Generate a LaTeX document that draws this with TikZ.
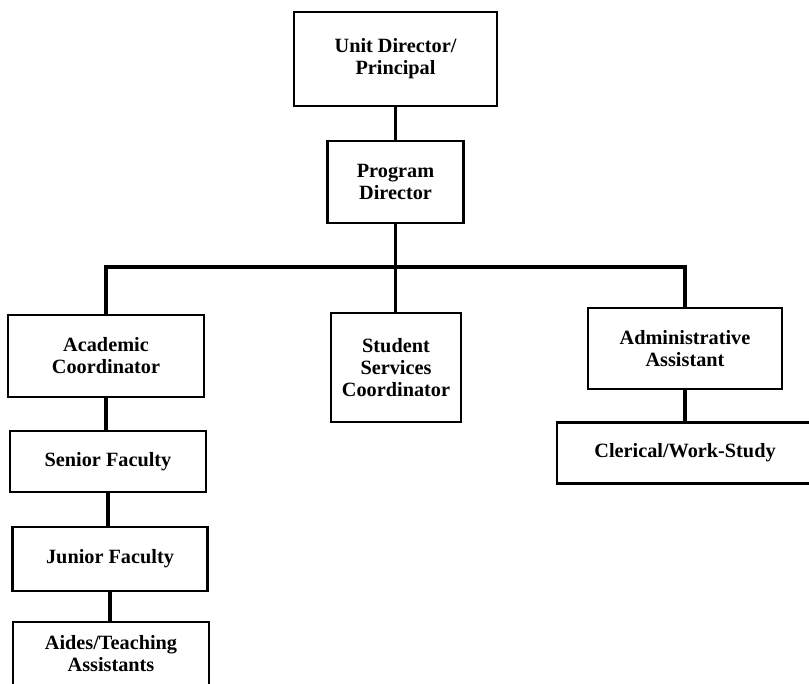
\documentclass[tikz,border=0pt]{standalone}
\usepackage{fontspec}
\setmainfont{Liberation Serif}
\begin{document}
\begin{tikzpicture}[x=0.75pt,y=-0.75pt,
  post/.style={draw, line width=2.1pt, align=center, inner sep=2pt,
    font=\fontsize{15.2}{16.5}\selectfont\bfseries},
  size/.style 2 args={minimum width=#1*0.75pt, minimum height=#2*0.75pt},
  link/.style={line width=2.3pt}]
\useasboundingbox (0,0) rectangle (809,683);
\clip (0,0) rectangle (809,683);

% top of the chart
\node[post, size={203}{94}] (unit) at (395.5,59) {Unit Director/\\Principal};
\node[post, size={136}{82}] (pd) at (395.5,182) {Program\\Director};

% second level
\node[post, size={196}{82}] (acad) at (106,356) {Academic\\Coordinator};
\node[post, size={130}{109}] (stud) at (396,367.5) {Student\\Services\\Coordinator};
\node[post, size={194}{81}] (admin) at (685,348.5) {Administrative\\Assistant};

% academic line
\node[post, size={196}{61}] (senior) at (108,461.5) {Senior Faculty};
\node[post, size={195}{64}] (junior) at (110,559) {Junior Faculty};
\node[post, size={196}{64}] (aides) at (111,654) {Aides/Teaching\\Assistants};

% administrative line
\node[post, size={256}{61}] (cler) at (685,453) {Clerical/Work-Study};

% connectors
\coordinate (bus) at (0,267);
\draw[link] (unit) -- (pd);
\draw[link] (pd.south) -- (pd.south |- stud.north);
\draw[link] (acad.north) -- (acad.north |- bus) -- (admin.north |- bus) -- (admin.north);
\draw[link] (acad.south) -- (acad.south |- senior.north);
\draw[link] (senior.south) -- (senior.south |- junior.north);
\draw[link] (junior.south) -- (junior.south |- aides.north);
\draw[link] (admin.south) -- (admin.south |- cler.north);
\end{tikzpicture}
\end{document}
